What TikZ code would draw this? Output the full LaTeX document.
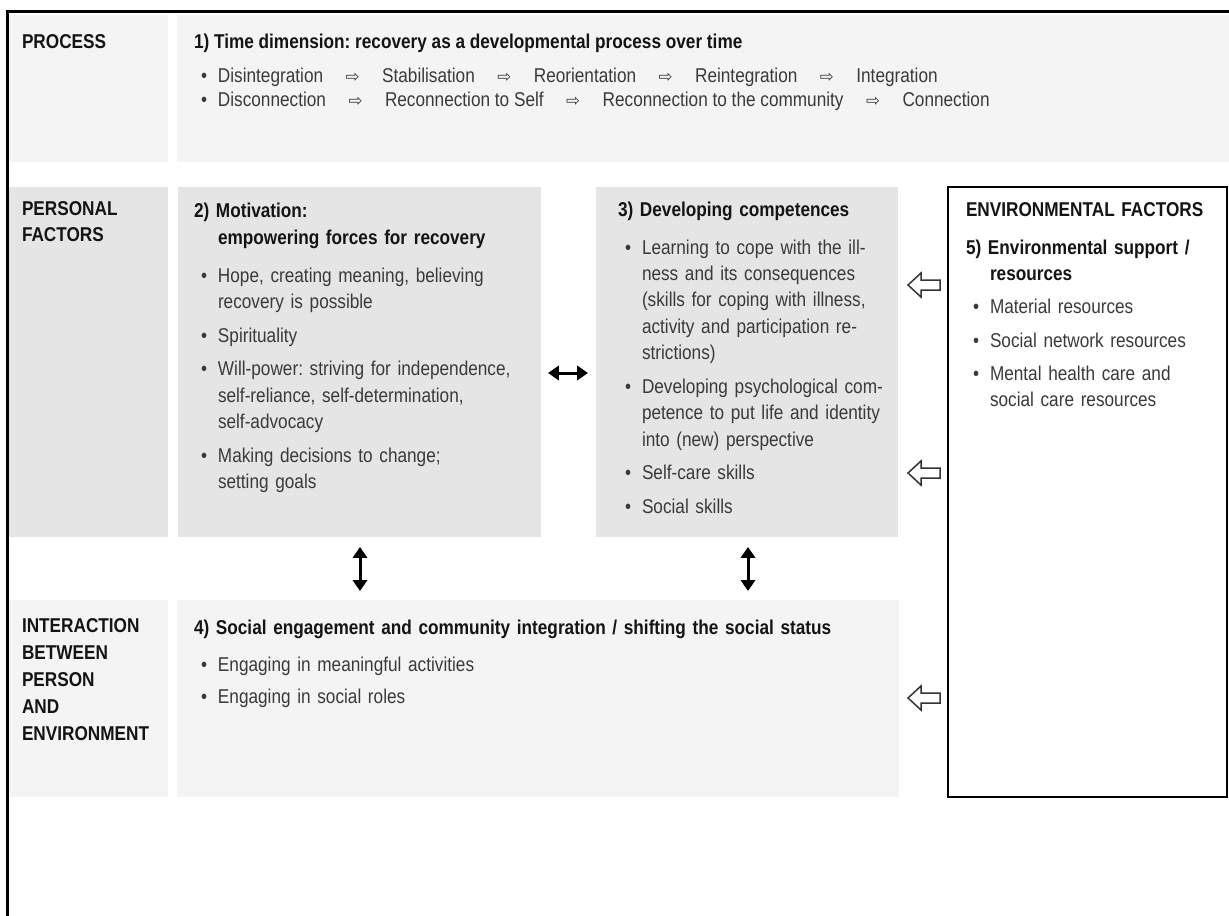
\documentclass[tikz,border=0pt]{standalone}
\usepackage{fontspec}
\setmainfont{Liberation Sans}[FakeStretch=0.86]
\newfontfamily\symfont{DejaVu Sans}
\usetikzlibrary{arrows.meta,fit}
\frenchspacing
\definecolor{lightbg}{HTML}{F4F4F4}
\definecolor{darkbg}{HTML}{E5E5E5}
\definecolor{bodytxt}{HTML}{3A3A3A}
\definecolor{titletxt}{HTML}{141414}
\definecolor{arrowgray}{HTML}{333333}

\newcommand{\bodyfont}{\fontsize{12pt}{15.9pt}\selectfont\frenchspacing}
\newcommand{\lblfont}{\fontsize{12pt}{16.2pt}\selectfont\bfseries}
\newcommand{\bitem}[2][4.2pt]{\par\vspace{#1}\noindent\hangindent=14.4pt\hangafter=1\makebox[14.4pt][l]{\hspace{4.2pt}\textbullet}#2\par}
\newcommand{\btitle}[1]{{\bfseries\color{titletxt}\noindent\hangindent=14.4pt\hangafter=1 #1\par}}
\newcommand{\arr}{\hspace{13.5pt}{\symfont\fontsize{10pt}{10pt}\selectfont ⇨}\hspace{13.5pt}}

\tikzset{
  panel/.style={inner sep=0pt, outer sep=0pt, draw=none},
  lightpanel/.style={panel, fill=lightbg},
  darkpanel/.style={panel, fill=darkbg},
  envpanel/.style={panel, draw=black, line width=1.2pt, fill=white},
  lbl/.style={anchor=base west, inner sep=0pt, outer sep=0pt, text width=#1, align=left, font=\lblfont, text=titletxt},
  lbl/.default=95pt,
  blk/.style={anchor=base west, inner sep=0pt, outer sep=0pt, text width=#1, align=left, font=\bodyfont, text=bodytxt},
  blk/.default=230pt,
  line1/.style={anchor=base west, inner sep=0pt, outer sep=0pt, font=\bodyfont, text=bodytxt},
  ttl/.style={anchor=base west, inner sep=0pt, outer sep=0pt, font=\bodyfont\bfseries, text=titletxt},
  dbl/.style={line width=1.8pt, {Triangle[length=6.5pt,width=8.5pt]}-{Triangle[length=6.5pt,width=8.5pt]}},
  hollow/.style={draw=arrowgray, line width=0.9pt, fill=white, line join=miter}
}

\begin{document}
\begin{tikzpicture}[x=0.6pt, y=-0.6pt]
\useasboundingbox (0,0) rectangle (1229,916);
\fill[white] (0,0) rectangle (1229,916);

% ---------- panels ----------
\node[lightpanel, fit={(8,15)(168,162)}] (procL) {};
\node[lightpanel, fit={(177,15)(1229,162)}] (procC) {};
\node[darkpanel, fit={(8,187)(168,537)}] (persL) {};
\node[darkpanel, fit={(178,187)(541,537)}] (mot) {};
\node[darkpanel, fit={(596,187)(898,537)}] (comp) {};
\node[envpanel, fit={(948,187)(1227,797)}] (env) {};
\node[lightpanel, fit={(8,600)(168,797)}] (interL) {};
\node[lightpanel, fit={(177,600)(899,797)}] (social) {};

% ---------- frame ----------
\draw[line width=1.8pt] (7,916) -- (7,12) -- (1229,12);

% ---------- row 1 ----------
\node[lbl] (lproc) at (22,49) {PROCESS};
\node[ttl] (t1) at (194,49) {1) Time dimension: recovery as a developmental process over time};
\node[line1] (p1) at (201,83) {\makebox[10.2pt][l]{\textbullet}Disintegration\arr Stabilisation\arr Reorientation\arr Reintegration\arr Integration};
\node[line1] (p2) at (201,107) {\makebox[10.2pt][l]{\textbullet}Disconnection\arr Reconnection to Self\arr Reconnection to the community\arr Connection};

% ---------- row 2 ----------
\node[lbl] (lpers) at (22,215) {PERSONAL\\FACTORS};

\node[blk] (tmot) at (194,218) {%
\btitle{2) Motivation:\newline empowering forces for recovery}%
\bitem[6.9pt]{Hope, creating meaning, believing\newline recovery is possible}%
\bitem{Spirituality}%
\bitem{Will-power: striving for independence,\newline self-reliance, self-determination,\newline self-advocacy}%
\bitem{Making decisions to change;\newline setting goals}};

\node[blk=200pt] (tcomp) at (618,216) {%
\btitle{3) Developing competences}%
\bitem[6.9pt]{Learning to cope with the ill-\newline ness and its consequences\newline (skills for coping with illness,\newline activity and participation re-\newline strictions)}%
\bitem{Developing psychological com-\newline petence to put life and identity\newline into (new) perspective}%
\bitem{Self-care skills}%
\bitem{Social skills}};

\node[lbl=160pt] (lenv) at (966,216) {ENVIRONMENTAL FACTORS};
\node[blk=160pt] (tenv) at (966,254) {%
\btitle{5) Environmental support /\newline resources}%
\bitem[3.9pt]{Material resources}%
\bitem{Social network resources}%
\bitem{Mental health care and\newline social care resources}};

% ---------- row 3 ----------
\node[lbl] (linter) at (22,632) {INTERACTION\\BETWEEN\\PERSON\\AND\\ENVIRONMENT};
\node[blk=420pt] (tsoc) at (194,634) {%
\btitle{4) Social engagement and community integration / shifting the social status}%
\bitem[6.3pt]{Engaging in meaningful activities}%
\bitem[3.3pt]{Engaging in social roles}};

% ---------- connectors ----------
\coordinate (h1) at (548,373);
\coordinate (h2) at (588,373);
\draw[dbl] (h1) -- (h2);
\coordinate (v1a) at (360,547);
\coordinate (v1b) at (360,591);
\draw[dbl] (v1a) -- (v1b);
\coordinate (v2a) at (748,547);
\coordinate (v2b) at (748,591);
\draw[dbl] (v2a) -- (v2b);

% hollow arrows (environment -> person)
\foreach \cy/\nm in {285/ha, 473/hb, 698/hc}{
  \coordinate (\nm) at (924,\cy);
  \draw[hollow] ([shift={(-16,0)}]\nm) -- ([shift={(-3,-12)}]\nm) -- ([shift={(-3,-5)}]\nm)
     -- ([shift={(16,-5)}]\nm) -- ([shift={(16,5)}]\nm) -- ([shift={(-3,5)}]\nm)
     -- ([shift={(-3,12)}]\nm) -- cycle;
}
\end{tikzpicture}
\end{document}
